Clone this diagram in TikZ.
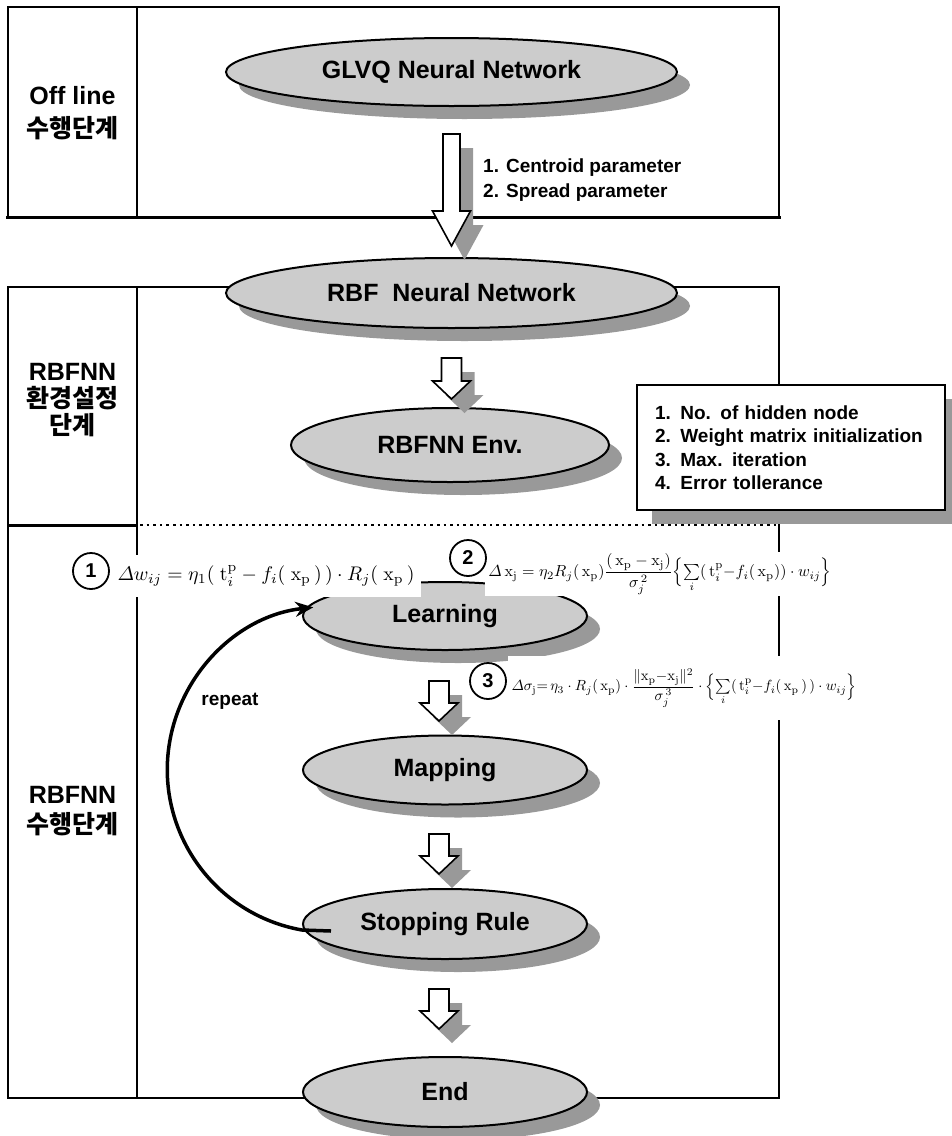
\documentclass[tikz,border=0pt]{standalone}
\usepackage{amsmath}
\usepackage{graphicx}
\usepackage[no-math]{fontspec}
\setmainfont{Liberation Sans}
\newfontfamily\krfont{Noto Sans CJK KR}
\usetikzlibrary{shapes.geometric,shadows,arrows.meta,calc}
\definecolor{ellfill}{HTML}{CCCCCC}
\definecolor{shadowgray}{HTML}{999999}

% block arrow hanging below a node: node, gap, x offset, length, shaft half, head half, head length
\newcommand\blockarrow[7]{%
  \foreach \sx/\sy/\sty in {13/14/arrowshadow,0/0/arrowbody}{%
    \path[\sty] ($(#1.south)+(#3-#5+\sx,#2+\sy)$) -- ++(2*#5,0) -- ++(0,#4-#7)
      -- ++(#6-#5,0) -- ++(-#6,#7) -- ++(-#6,-#7) -- ++(#6-#5,0) -- cycle;}}

\begin{document}
\begin{tikzpicture}[x=1pt,y=-1pt,
  boxline/.style={line width=2pt},
  heavyline/.style={line width=3pt},
  dotline/.style={line width=2.6pt, dash pattern=on 2.6pt off 4pt},
  stage/.style={ellipse, draw, line width=2pt, fill=ellfill, inner sep=0pt,
    font=\fontsize{25}{30}\selectfont\bfseries,
    general shadow={fill=shadowgray, shadow xshift=13pt, shadow yshift=-13pt}},
  sidelabel/.style={align=center, inner sep=0pt},
  arrowshadow/.style={fill=shadowgray},
  arrowbody/.style={draw, fill=white, line width=1.6pt, line join=miter},
  infobox/.style={draw, line width=2pt, fill=white, align=left, inner xsep=18pt,
    font=\fontsize{19}{23.5}\selectfont\bfseries,
    general shadow={fill=shadowgray, shadow xshift=15pt, shadow yshift=-14pt}},
  numcircle/.style={circle, draw, line width=1.8pt, fill=white, minimum size=36pt,
    inner sep=0pt, font=\fontsize{20}{20}\selectfont\bfseries},
  formula/.style={fill=white, inner sep=0pt},
  repeatline/.style={line width=3.5pt, -{Stealth[length=18pt,width=15pt]}}]
\useasboundingbox (0,0) rectangle (952,1136);

% frames of the three stages
\draw[boxline] (8,217) -- (8,7) -- (779,7) -- (779,217);
\draw[heavyline] (6,217) -- (781,217);
\draw[boxline] (137,7) -- (137,217);
\draw[boxline] (8,287) rectangle (779,1098);
\draw[boxline] (137,287) -- (137,1098);
\draw[heavyline] (8,525) -- (137,525);
\draw[dotline] (140,525) -- (779,525);

% stage labels
\node[sidelabel, font=\fontsize{25}{33}\selectfont\bfseries] (lab1) at (72.5,113)
  {Off line\\{\krfont 수행단계}};
\node[sidelabel, font=\fontsize{25}{27}\selectfont\bfseries] (lab2) at (72.5,400)
  {RBFNN\\{\krfont 환경설정}\\{\krfont 단계}};
\node[sidelabel, font=\fontsize{25}{30}\selectfont\bfseries] (lab3) at (72.5,811)
  {RBFNN\\{\krfont 수행단계}};

% process steps
\node[stage, minimum width=451pt, minimum height=68pt] (glvq) at (451.5,72) {GLVQ Neural Network};
\node[stage, minimum width=451pt, minimum height=70pt] (rbf) at (451.5,293) {RBF\ \ Neural Network};
\node[stage, minimum width=318pt, minimum height=74pt] (env) at (450,445) {RBFNN Env.};
\node[stage, minimum width=284pt, minimum height=68pt] (learn) at (445,616) {Learning};
\node[stage, minimum width=284pt, minimum height=69pt] (map) at (445,770) {Mapping};
\node[stage, minimum width=284pt, minimum height=70pt] (stop) at (445,924) {Stopping Rule};
\node[stage, minimum width=284pt, minimum height=70pt] (finish) at (445,1092) {End};

% block arrows between the steps
\blockarrow{glvq}{27}{0}{112}{8.5}{19}{35}
\blockarrow{rbf}{29}{0}{41}{10}{19}{18}
\blockarrow{learn}{30}{-6}{40}{10}{19}{18}
\blockarrow{map}{28.5}{-6}{40}{10}{19}{18}
\blockarrow{stop}{29}{-6}{40}{10}{19}{18}

% parameters passed on and environment settings
\node[anchor=west, align=left, inner sep=0pt, font=\fontsize{19}{25}\selectfont\bfseries] (params)
  at (483,180.5) {1. Centroid parameter\\2. Spread parameter};
\node[infobox, minimum width=308pt, minimum height=125pt, text width=272pt] (setup) at (791,447.5)
  {1. No. of hidden node\\2. Weight matrix initialization\\3. Max. iteration\\4. Error tollerance};

% update rules
\node[formula, minimum width=310pt, minimum height=42pt] (f1) at (266,576)
  {\resizebox{297pt}{!}{$\varDelta w_{ij} = \eta_1(\;\mathrm{t}_i^{\mathrm{p}} - f_i(\;\mathrm{x}_{\mathrm{p}}\,)\,)\cdot R_j(\;\mathrm{x}_{\mathrm{p}}\,)$}};
\node[formula, minimum width=350pt, minimum height=44pt] (f2) at (660,574)
  {\resizebox{343pt}{!}{$\varDelta\,\mathrm{x}_{\mathrm{j}}=\eta_2R_j(\,\mathrm{x}_{\mathrm{p}})\dfrac{(\,\mathrm{x}_{\mathrm{p}}-\mathrm{x}_{\mathrm{j}})}{\sigma_j^{\,2}}\Bigl\{\sum\limits_i(\,\mathrm{t}_i^{\mathrm{p}}{-}f_i(\,\mathrm{x}_{\mathrm{p}}))\cdot w_{ij}\Bigr\}$}};
\node[formula, minimum width=352pt, minimum height=64pt] (f3) at (684,688)
  {\raisebox{6pt}{\resizebox{345pt}{!}{$\varDelta\sigma_{\mathrm{j}}{=}\,\eta_3\cdot R_j(\,\mathrm{x}_{\mathrm{p}})\cdot\dfrac{\|\mathrm{x}_{\mathrm{p}}{-}\mathrm{x}_{\mathrm{j}}\|^2}{\sigma_j^{\,3}}\cdot\Bigl\{\sum\limits_i(\,\mathrm{t}_i^{\mathrm{p}}{-}f_i(\,\mathrm{x}_{\mathrm{p}}\,)\,)\cdot w_{ij}\Bigr\}$}}};
\node[numcircle] (c1) at (91,571) {1};
\node[numcircle] (c2) at (468,558) {2};
\node[numcircle] (c3) at (488,681) {3};

% repeat loop from the stopping rule back to learning
\draw[repeatline] ($(stop.west)+(29,7)$) -- ($(stop.west)+(0,6)$)
  arc[start angle=100, end angle=264, radius=163];
\node[font=\fontsize{19}{19}\selectfont\bfseries, inner sep=0pt] (rep) at (230,701) {repeat};
\end{tikzpicture}
\end{document}
